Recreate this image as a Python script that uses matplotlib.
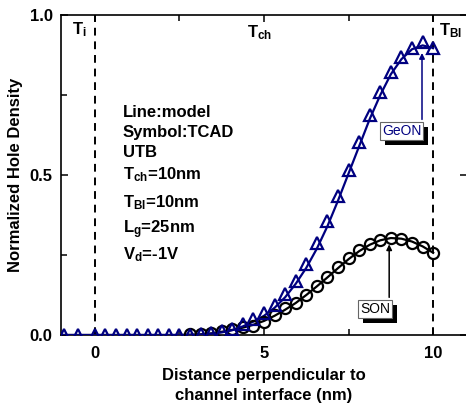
import matplotlib
matplotlib.use("Agg")
import matplotlib.pyplot as plt
import matplotlib.patheffects as pe

plt.rcParams['font.family'] = ['Liberation Sans', 'DejaVu Sans']
plt.rcParams['mathtext.default'] = 'regular'

NAVY = '#000080'

# x positions of TCAD symbols (nm)
x_grid = [0.0, 0.3125, 0.625, 0.9375, 1.25, 1.5625, 1.875, 2.1875, 2.5, 2.8125,
          3.125, 3.4375, 3.75, 4.0625, 4.375, 4.6875, 5.0, 5.3125, 5.625, 5.9375,
          6.25, 6.5625, 6.875, 7.1875, 7.5, 7.8125, 8.125, 8.4375, 8.75, 9.0625,
          9.375, 9.6875, 10.0]

# GeON - TCAD symbols
geon_x_left = [-0.9, -0.5]
geon_tcad_left = [0.0, 0.0]
geon_tcad = [0.0, 0.0, 0.0, 0.0, 0.0, 0.0, 0.0, 0.0, 0.0, 0.001,
             0.003, 0.006, 0.011, 0.02, 0.035, 0.05, 0.068, 0.094, 0.128, 0.168,
             0.222, 0.286, 0.356, 0.435, 0.517, 0.602, 0.686, 0.76, 0.823, 0.87,
             0.897, 0.917, 0.897]

# SON - TCAD symbols (start at 2.8125 nm)
son_x = x_grid[9:]
son_tcad = [0.002, 0.004, 0.007, 0.012, 0.018, 0.026, 0.029, 0.042, 0.063, 0.083,
            0.10, 0.125, 0.153, 0.182, 0.212, 0.24, 0.266, 0.284, 0.297, 0.302,
            0.299, 0.289, 0.276, 0.255]

# model lines
model_x = [-1.0] + x_grid
geon_model = [0.0, 0.0, 0.0, 0.0, 0.0, 0.0, 0.0, 0.0, 0.0, 0.0, 0.0,
              0.001, 0.004, 0.008, 0.015, 0.027, 0.042, 0.06, 0.085, 0.118, 0.16,
              0.21, 0.27, 0.34, 0.42, 0.505, 0.59, 0.675, 0.75, 0.815, 0.862,
              0.893, 0.905, 0.897]
son_model = [0.0, 0.0, 0.0, 0.0, 0.0, 0.0, 0.0, 0.0, 0.0, 0.0, 0.001,
             0.002, 0.005, 0.01, 0.016, 0.023, 0.032, 0.044, 0.06, 0.079, 0.10,
             0.125, 0.152, 0.18, 0.209, 0.237, 0.262, 0.282, 0.296, 0.303, 0.301,
             0.292, 0.277, 0.257]

params = ['Line:model', 'Symbol:TCAD', 'UTB', 'T$_{ch}$=10nm', 'T$_{Bl}$=10nm',
          'L$_{g}$=25nm', 'V$_{d}$=-1V']
params_y = [0.695, 0.632, 0.57, 0.50, 0.415, 0.33, 0.25]

fig = plt.figure(figsize=(4.66, 4.08), dpi=100)
ax = fig.add_axes([61 / 466, 73 / 408, 406 / 466, 320 / 408])

ax.plot(model_x, son_model, '-', color='black', lw=1.6, zorder=3)
ax.plot(model_x, geon_model, '-', color=NAVY, lw=1.6, zorder=3)
ax.plot(son_x, son_tcad, 'o', ms=8, mfc='none', mec='black', mew=1.6, zorder=4)
ax.plot(geon_x_left + x_grid, geon_tcad_left + geon_tcad, '^', ms=9, mfc='none',
        mec=NAVY, mew=1.6, zorder=5)

# channel boundaries
for xv in [0, 10]:
    ax.axvline(xv, color='black', lw=1.4, ls=(0, (4, 3)), zorder=2)

ax.set_xlim(-1, 11)
ax.set_ylim(0, 1.0)
ax.set_xticks([0, 5, 10])
ax.set_xticks([2.5, 7.5], minor=True)
ax.set_yticks([0.0, 0.5, 1.0])
ax.set_yticklabels(['0.0', '0.5', '1.0'])
ax.set_yticks([0.25, 0.75], minor=True)
ax.tick_params(which='both', direction='in', top=True, width=1.1)
ax.tick_params(which='major', length=5, right=True)
ax.tick_params(which='minor', length=4, right=False)
ax.tick_params(axis='x', pad=8)
ax.tick_params(axis='y', pad=6)
for lab in ax.get_xticklabels() + ax.get_yticklabels():
    lab.set_fontsize(12)
    lab.set_fontweight('bold')
for sp in ax.spines.values():
    sp.set_linewidth(1.2)

ax.set_xlabel('Distance perpendicular to\nchannel interface (nm)', fontsize=12,
              fontweight='bold', linespacing=1.4, labelpad=5)
ax.set_ylabel('Normalized Hole Density', fontsize=12, fontweight='bold', labelpad=5)

# region labels
ax.text(-0.68, 0.955, 'T$_{i}$', fontsize=12, fontweight='bold', va='center')
ax.text(4.5, 0.945, 'T$_{ch}$', fontsize=12, fontweight='bold', va='center')
ax.text(10.18, 0.95, 'T$_{Bl}$', fontsize=12, fontweight='bold', va='center')

for txt, yy in zip(params, params_y):
    ax.text(0.83, yy, txt, fontsize=12, fontweight='bold', va='center')

# labelled arrows
box = dict(boxstyle='square,pad=0.15', fc='white', ec='0.4', lw=0.8)
shadow = [pe.SimplePatchShadow(offset=(3.5, -3.5), shadow_rgbFace='black', alpha=1),
          pe.Normal()]
t1 = ax.text(9.07, 0.637, 'GeON', fontsize=10, color=NAVY, ha='center', va='center',
             bbox=box, zorder=6)
t1.get_bbox_patch().set_path_effects(shadow)
ax.annotate('', xy=(9.67, 0.89), xytext=(9.67, 0.665),
            arrowprops=dict(arrowstyle='-|>', color=NAVY, lw=1.1, mutation_scale=8),
            zorder=6)
t2 = ax.text(8.28, 0.081, 'SON', fontsize=10, color='black', ha='center', va='center',
             bbox=box, zorder=6)
t2.get_bbox_patch().set_path_effects(shadow)
ax.annotate('', xy=(8.7, 0.292), xytext=(8.7, 0.109),
            arrowprops=dict(arrowstyle='-|>', color='black', lw=1.1, mutation_scale=8),
            zorder=6)

fig.savefig('out.png', dpi=100)
